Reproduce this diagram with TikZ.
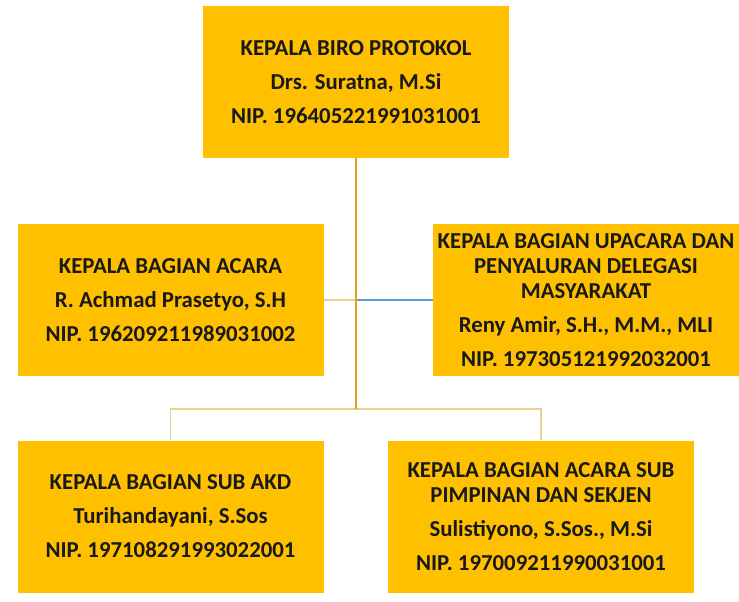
\documentclass[tikz,border=0pt]{standalone}
\usepackage{fontspec}
\setmainfont{Carlito}
\definecolor{boxgold}{HTML}{FFC000}
\definecolor{trunkgold}{HTML}{D9A520}
\definecolor{branchgold}{HTML}{E8D28E}
\definecolor{linkblue}{HTML}{5B9BD5}
\tikzset{
  unit/.style={fill=boxgold, minimum width=306pt, minimum height=152pt, inner sep=0pt,
    align=center, text=black!90, font={\bfseries\fontsize{22.8}{25}\selectfont}},
  trunk/.style={draw=trunkgold, line width=1.3pt},
  branch/.style={draw=branchgold, line width=1.3pt},
}
\begin{document}
\begin{tikzpicture}[x=1pt, y=-1pt]

\useasboundingbox (0,0) rectangle (739,602);

\node [unit] (kepala) at (356, 82) {
KEPALA BIRO PROTOKOL\\[9pt]
Drs. Suratna, M.Si\\[9pt]
NIP. 196405221991031001
};

\node [unit] (acara) at (170.5, 300) {
KEPALA BAGIAN ACARA\\[9pt]
R. Achmad Prasetyo, S.H\\[9pt]
NIP. 196209211989031002
};

\node [unit] (upacara) at (586, 300) {
KEPALA BAGIAN UPACARA DAN\\
PENYALURAN DELEGASI\\
MASYARAKAT\\[9pt]
Reny Amir, S.H., M.M., MLI\\[9pt]
NIP. 197305121992032001
};

\node [unit] (akd) at (170.5, 516.5) {
KEPALA BAGIAN SUB AKD\\[9pt]
Turihandayani, S.Sos\\[9pt]
NIP. 197108291993022001
};

\node [unit] (sekjen) at (541, 516.5) {
KEPALA BAGIAN ACARA SUB\\
PIMPINAN DAN SEKJEN\\[9pt]
Sulistiyono, S.Sos., M.Si\\[9pt]
NIP. 197009211990031001
};

\coordinate (mid) at (356, 300);
\coordinate (hub) at (356, 409);

\draw [branch] (acara.east) -- (mid);
\draw [draw=linkblue, line width=1.2pt] (mid) -- (upacara.west);
\draw [branch] (hub) -| (akd.north);
\draw [branch] (hub) -| (sekjen.north);
\draw [trunk] (kepala.south) -- (hub);

\end{tikzpicture}
\end{document}
